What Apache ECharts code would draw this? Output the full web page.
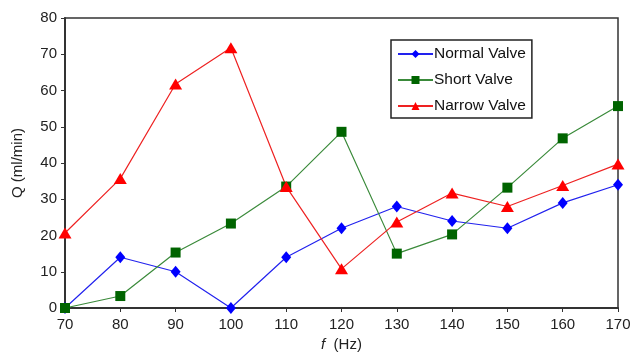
<!DOCTYPE html>
<html><head><meta charset="utf-8">
<script src="https://cdn.jsdelivr.net/npm/echarts@6/dist/echarts.min.js"></script>
<style>html,body{margin:0;padding:0;background:#fff}#c{width:639px;height:355px}</style>
</head><body><div id="c"></div>
<script>
var freqs = [70, 80, 90, 100, 110, 120, 130, 140, 150, 160, 170];
var normalValve = [0, 14, 10, 0, 14, 22, 28, 24, 22, 29, 34];
var shortValve = [0, 3.3, 15.3, 23.3, 33.5, 48.6, 15, 20.3, 33.2, 46.8, 55.7];
var narrowValve = [20.7, 35.7, 61.8, 71.8, 33.5, 10.8, 23.7, 31.7, 28, 33.8, 39.7];

function pairs(v){ return freqs.map(function(f,i){ return [f, v[i]]; }); }
var chart = echarts.init(document.getElementById('c'));
var font = 'Liberation Sans, Arial, sans-serif';
chart.setOption({
  animation: false,
  grid: {left: 65, right: 21, top: 18, bottom: 47, outerBoundsMode: 'none', show: true, borderColor: '#333', borderWidth: 1.5, backgroundColor: '#fff'},
  xAxis: {
    type: 'value', min: 70, max: 170, interval: 10,
    name: '{i|f}  (Hz)', nameLocation: 'middle', nameGap: 29,
    nameTextStyle: {fontFamily: font, fontSize: 15, color: '#222', rich: {i: {fontStyle: 'italic', fontFamily: font, fontSize: 15, color: '#222'}}},
    axisLine: {lineStyle: {color: '#333', width: 2}},
    axisTick: {show: true, length: 4, lineStyle: {color: '#333'}},
    axisLabel: {fontFamily: font, fontSize: 15, color: '#222', margin: 9},
    splitLine: {show: false}
  },
  yAxis: {
    type: 'value', min: 0, max: 80, interval: 10,
    name: 'Q (ml/min)', nameLocation: 'middle', nameGap: 40,
    nameTextStyle: {fontFamily: font, fontSize: 15, color: '#222'},
    axisLine: {show: true, lineStyle: {color: '#333', width: 2}},
    axisTick: {show: true, length: 4, lineStyle: {color: '#333'}},
    axisLabel: {fontFamily: font, fontSize: 15, color: '#222', margin: 8},
    splitLine: {show: false}
  },
  legend: {
    orient: 'vertical', left: 391, top: 40,
    backgroundColor: '#fff', borderColor: '#222', borderWidth: 1.5,
    padding: [6, 6, 4, 6], itemGap: 10, itemWidth: 35, itemHeight: 10,
    textStyle: {fontFamily: font, fontSize: 15.5, color: '#111', padding: [0,0,0,-4]},
    data: ['Normal Valve', 'Short Valve', 'Narrow Valve']
  },
  series: [
    {name: 'Normal Valve', type: 'line', data: pairs(normalValve), symbol: 'diamond', symbolSize: [10, 12],
     itemStyle: {color: '#0000ff'}, lineStyle: {color: '#2222ee', width: 1.2}},
    {name: 'Short Valve', type: 'line', data: pairs(shortValve), symbol: 'rect', symbolSize: 10,
     itemStyle: {color: '#006400'}, lineStyle: {color: '#3a8a3a', width: 1.2}},
    {name: 'Narrow Valve', type: 'line', data: pairs(narrowValve), symbol: 'triangle', symbolSize: [13, 11],
     itemStyle: {color: '#ff0000'}, lineStyle: {color: '#ee2222', width: 1.2}}
  ]
});
</script></body></html>
